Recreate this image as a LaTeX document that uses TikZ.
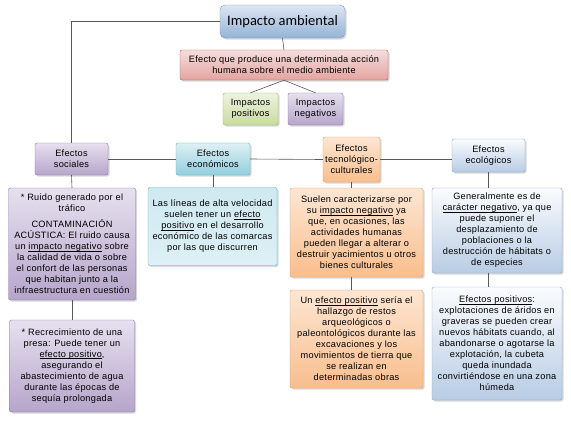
\documentclass[tikz,border=0pt]{standalone}
\usepackage{fontspec}
\setmainfont[LetterSpace=3]{Liberation Sans}
\newfontfamily\titlefont{Carlito}
\usepackage{tikz}
\usetikzlibrary{shadows,positioning}
\definecolor{blueT}{HTML}{DCE6F2}
\definecolor{blueB}{HTML}{95B3D7}
\definecolor{blueD}{HTML}{7F9DC4}
\definecolor{redT}{HTML}{F4DEDD}
\definecolor{redB}{HTML}{E3A3A1}
\definecolor{redD}{HTML}{C0504D}
\definecolor{greenT}{HTML}{EEF3E1}
\definecolor{greenB}{HTML}{C8DB9F}
\definecolor{greenD}{HTML}{9BBB59}
\definecolor{purpT}{HTML}{E6E0EE}
\definecolor{purpB}{HTML}{B6A5CB}
\definecolor{purpD}{HTML}{8A72AA}
\definecolor{aquaT}{HTML}{DDF0F5}
\definecolor{aquaB}{HTML}{95CEDD}
\definecolor{aquaD}{HTML}{5CB3CB}
\definecolor{orT}{HTML}{FDE6D3}
\definecolor{orB}{HTML}{F9BE8D}
\definecolor{orD}{HTML}{E8995A}
\definecolor{ecoT}{HTML}{FAFCFE}
\definecolor{ecoB}{HTML}{B8CCE4}
\definecolor{ecoD}{HTML}{8EA4C0}
\newcommand{\undl}[1]{\setbox0\hbox{#1}\rlap{\rule[-1.6pt]{\wd0}{0.5pt}}\box0\relax}
\tikzset{
  box/.style={rounded corners=2pt, align=center, inner sep=1pt,
    font=\fontsize{9.2}{11}\selectfont,
    drop shadow={opacity=0.3,shadow xshift=1.5pt,shadow yshift=-1.5pt}},
  bluebox/.style={box, draw=blueD, top color=blueT, bottom color=blueB},
  redbox/.style={box, draw=redD, top color=redT, bottom color=redB},
  greenbox/.style={box, draw=greenD, top color=greenT, bottom color=greenB},
  purpbox/.style={box, draw=purpD, top color=purpT, bottom color=purpB},
  aquabox/.style={box, draw=aquaD, top color=aquaT, bottom color=aquaB},
  orbox/.style={box, draw=orD, top color=orT, bottom color=orB},
  ecobox/.style={box, draw=ecoD, top color=ecoT, bottom color=ecoB},
  link/.style={draw=black!65, line width=0.6pt}
}

\begin{document}
\begin{tikzpicture}[x=1pt,y=-1pt]
\useasboundingbox[fill=white] (0,0) rectangle (571,429);
% top of the map
\node[bluebox,rounded corners=5pt,minimum width=125pt,minimum height=33pt,font=\titlefont\fontsize{14.5}{16}\selectfont] (title) at (282.5,21.5) {Impacto ambiental};
\node[redbox,minimum width=208pt,minimum height=30pt] (def) at (284,65) {Efecto que produce una determinada acción\\humana sobre el medio ambiente};
\node[greenbox,minimum width=55pt,minimum height=32pt] (pos) at (250.5,109) {Impactos\\positivos};
\node[purpbox,minimum width=55pt,minimum height=32pt] (neg) at (315.5,109) {Impactos\\negativos};
% kinds of effects
\node[purpbox,minimum width=73pt,minimum height=32pt] (soc) at (71.5,159) {Efectos\\sociales};
\node[aquabox,minimum width=74pt,minimum height=32pt] (econ) at (213,159) {Efectos\\económicos};
\node[orbox,minimum width=57pt,minimum height=45pt] (tec) at (351.5,159.5) {Efectos\\tecnológico-\\culturales};
\node[ecobox,minimum width=73pt,minimum height=33pt] (ecol) at (488.5,155.5) {Efectos\\ecológicos};
% texts
\node[purpbox,minimum width=127pt,minimum height=112pt] (soc1) at (72,244) {* Ruido generado por el\\tráfico\\[5pt]CONTAMINACIÓN\\ACÚSTICA: El ruido causa\\un \undl{impacto negativo} sobre\\la calidad de vida o sobre\\el confort de las personas\\que habitan junto a la\\infraestructura en cuestión};
\node[purpbox,minimum width=125pt,minimum height=92pt] (soc2) at (72,366) {* Recrecimiento de una\\presa: Puede tener un\\\undl{efecto positivo},\\asegurando el\\abastecimiento de agua\\durante las épocas de\\sequía prolongada};
\node[aquabox,top color=aquaT!80!aquaB,bottom color=aquaT,minimum width=129pt,minimum height=78pt] (econ1) at (212.5,226.5) {Las líneas de alta velocidad\\suelen tener un \undl{efecto}\\\undl{positivo} en el desarrollo\\económico de las comarcas\\por las que discurren};
\node[orbox,minimum width=133pt,minimum height=89pt] (tec1) at (356.5,232.5) {Suelen caracterizarse por\\su \undl{impacto negativo} ya\\que, en ocasiones, las\\actividades humanas\\pueden llegar a alterar o\\destruir yacimientos u otros\\bienes culturales};
\node[orbox,minimum width=133pt,minimum height=98pt] (tec2) at (356.5,339) {Un \undl{efecto positivo} sería el\\hallazgo de restos\\arqueológicos o\\paleontológicos durante las\\excavaciones y los\\movimientos de tierra que\\se realizan en\\determinadas obras};
\node[ecobox,minimum width=130pt,minimum height=85pt] (ecol1) at (497,230.5) {Generalmente es de\\\undl{carácter negativo}, ya que\\puede suponer el\\desplazamiento de\\poblaciones o la\\destrucción de hábitats o\\de especies};
\node[ecobox,minimum width=130pt,minimum height=113pt] (ecol2) at (497,343.5) {\undl{Efectos positivos}:\\explotaciones de áridos en\\graveras se pueden crear\\nuevos hábitats cuando, al\\abandonarse o agotarse la\\explotación, la cubeta\\queda inundada\\convirtiéndose en una zona\\húmeda};
% connectors
\draw[link] (title.west) -| (soc.north);
\draw[link] (title.south) -- (def.north);
\draw[link] (def.south) -- (pos.north);
\draw[link] (def.south) -- (neg.north);
\draw[link] (soc.east) -- (econ.west);
\draw[link] (econ.east) -- (tec.west);
\draw[link] (tec.east) -- (tec.east -| ecol.west);
\draw[link] (soc.south) -- (soc1.north);
\draw[link] (soc1.south) -- (soc2.north);
\draw[link] (econ.south) -- (econ.south |- econ1.north);
\draw[link] (tec.south) -- (tec.south |- tec1.north);
\draw[link] (tec.south |- tec1.south) -- (tec.south |- tec2.north);
\draw[link] (ecol.south) -- (ecol.south |- ecol1.north);
\draw[link] (ecol.south |- ecol1.south) -- (ecol.south |- ecol2.north);
\end{tikzpicture}
\end{document}
